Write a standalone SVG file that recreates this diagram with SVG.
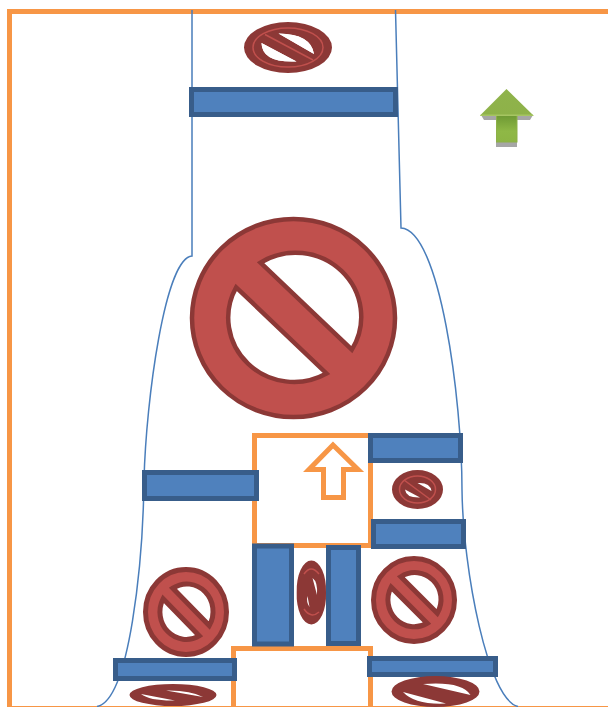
<svg xmlns="http://www.w3.org/2000/svg" width="608" height="707" viewBox="0 0 608 707">
<style>
.o{fill:none;stroke:#f79646;stroke-width:5}
.b{fill:#4f81bd;stroke:#385d8a;stroke-width:5}
.c{fill:none;stroke:#4a7ebb;stroke-width:1.500}
.n{fill:#c0504d;stroke:#8c3836;stroke-width:5;fill-rule:evenodd}
.d{fill:#8c3836;fill-rule:evenodd}
.l{fill:none;stroke:#c0504d;stroke-width:1.500}
</style>
<defs>
<path id="no" vector-effect="non-scaling-stroke" d="M1 0A1 1 0 1 1-1 0A1 1 0 1 1 1 0ZM-.325-.56L.575.32A.647.647 0 0 0-.325-.56ZM-.565-.31L.325.56A.647.647 0 0 1-.565-.31Z"/>
<linearGradient id="g1" x1="0" y1="0" x2="0" y2="1"><stop offset="0" stop-color="#8fb34b"/><stop offset="1" stop-color="#8db047"/></linearGradient>
<linearGradient id="g2" x1="0" y1="0" x2="0" y2="1"><stop offset="0" stop-color="#6f9a34"/><stop offset=".6" stop-color="#8fb846"/><stop offset="1" stop-color="#8db544"/></linearGradient>
</defs>
<rect width="608" height="707" fill="#fff"/>
<rect id="frame" class="o" x="9.500" y="11.500" width="610" height="697"/>
<g id="connectors">
<path class="c" d="M192 10V256C165 258 146 400 144 480C143 560 130 700 97 706.500"/>
<path class="c" d="M395.500 10L401 228C440 230 462 400 462 490C463 570 488 700 518 706.500"/>
</g>
<g id="box-upper"><rect class="o" x="254.500" y="435.500" width="116" height="110"/></g>
<g id="box-lower"><rect class="o" x="233.500" y="648.500" width="137" height="62"/></g>
<g id="arrow-outline"><path class="o" d="M333 445L309 469.500H323.500V497.500H343.500V469.500H358Z"/></g>
<g id="arrow-green">
<path d="M481 115H533L530 120H484ZM496 120H517V147H496Z" fill="#a6a6a6"/>
<path d="M506.500 89L533.500 115.500H517.500V142.500H496V115.500H480Z" fill="url(#g1)"/>
<path d="M481 114.500H532.500L533.500 115.500V116H480Z" fill="#a6c562"/>
<path d="M497 116H516.500V141.500H497Z" fill="url(#g2)"/>
</g>
<g id="bar-top"><rect class="b" x="191.500" y="89.500" width="204" height="25"/></g>
<g id="bar-right-1"><rect class="b" x="370.500" y="435.500" width="90" height="25"/></g>
<g id="bar-right-2"><rect class="b" x="373.500" y="521.500" width="90" height="25"/></g>
<g id="bar-left"><rect class="b" x="144.500" y="472.500" width="112" height="26"/></g>
<g id="bar-vertical-1"><rect class="b" x="254.500" y="546" width="37" height="98"/></g>
<g id="bar-vertical-2"><rect class="b" x="328.500" y="547.500" width="30" height="96"/></g>
<g id="bar-bottom-left"><rect class="b" x="115.500" y="660.500" width="119" height="18"/></g>
<g id="bar-bottom-right"><rect class="b" x="369.500" y="658.500" width="126" height="16"/></g>
<g id="no-large"><use href="#no" style="stroke-width:4.500" class="n" transform="translate(293.500 318) scale(101.500 99)"/></g>
<g id="no-top">
<path class="d" d="M244 47.500A44 25.500 0 1 1 332 47.500A44 25.500 0 1 1 244 47.500ZM278.500 33.500L314 54Q311 34 278.500 33.500ZM261.500 43L296.500 61.500Q262 63 261.500 43Z"/>
<ellipse class="l" cx="288" cy="47.500" rx="35" ry="19.500" stroke-width="2"/>
<path class="l" d="M265 34.500L313 60"/>
<path d="M278.500 33.500L314 54Q311 34 278.500 33.500ZM261.500 43L296.500 61.500Q262 63 261.500 43Z" fill="#fff"/>
</g>
<g id="no-small-right">
<path class="d" d="M392 489.500A25.500 19.500 0 1 1 443 489.500A25.500 19.500 0 1 1 392 489.500Z"/>
<ellipse class="l" cx="417.500" cy="489.500" rx="18" ry="13.500" stroke-width="1"/>
<path class="l" d="M404 480L431 500" stroke-width="1"/>
<path d="M417.500 483L431.500 491Q430 482 417.500 483ZM405 489.500L420 497.500Q406 498 405 489.500Z" fill="#fff"/>
</g>
<g id="no-middle">
<path class="d" d="M296.700 592.500A14.700 29.500 0 1 1 326 592.500A14.700 29.500 0 1 1 296.700 592.500Z"/>
<path class="l" d="M304 574Q311 564 319 574M304 609Q311 619 319 612"/>
<path d="M312.500 578L317 595Q318 582 312.500 578ZM307.500 596L309.500 607Q306 602 307.500 596Z" fill="#fff"/>
</g>
<g id="no-left"><use href="#no" class="n" transform="translate(186 612) scale(40.500 42.500)"/></g>
<g id="no-right"><use href="#no" class="n" transform="translate(414 600) scale(40.500 41.500)"/></g>
<g id="no-bottom-left"><path class="d" d="M129.500 695A43.500 11 0 1 1 216.500 695A43.500 11 0 1 1 129.500 695ZM166 690.500L203 697Q190 690 166 690.500ZM141 694L175 700.500Q150 701 141 694Z"/></g>
<g id="no-bottom-right"><path class="d" d="M391.500 691.500A44 15.500 0 1 1 479.500 691.500A44 15.500 0 1 1 391.500 691.500ZM423 684L470.500 695Q462 681 423 684ZM403 692L446 703.500Q415 705 403 692Z"/></g>
</svg>
